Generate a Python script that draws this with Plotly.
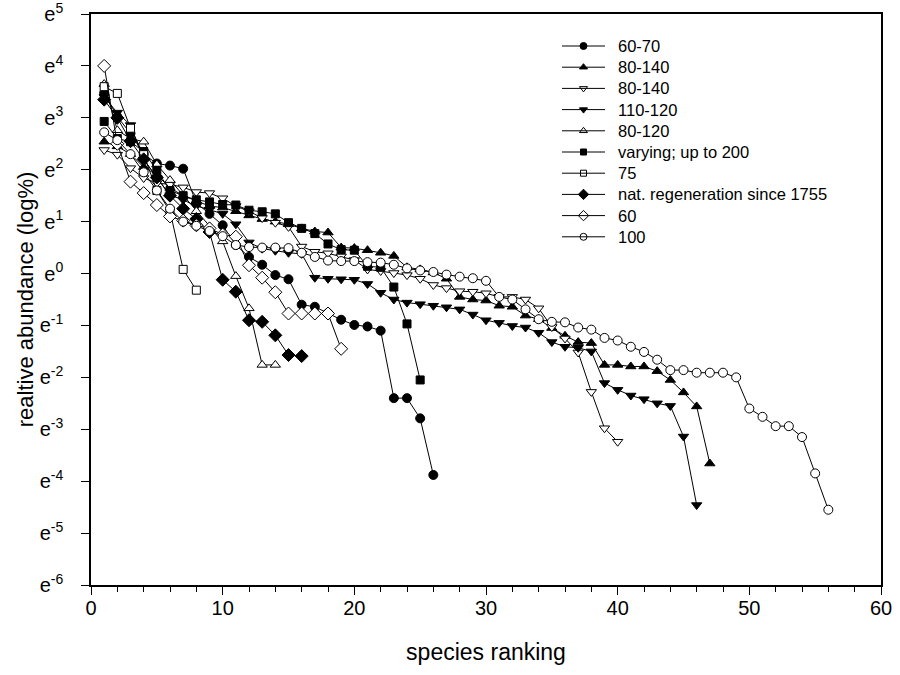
import plotly.graph_objects as go

# ---- data (natural-log relative abundance by species rank) ----
s_60_70 = [3.48, 3.02, 2.70, 2.30, 2.12, 2.08, 2.02, 1.36, 1.15, 0.93, 0.55, 0.32, 0.17, -0.03,
           -0.11, -0.60, -0.64, -0.76, -0.89, -0.99, -1.02, -1.10, -2.40, -2.40, -2.79, -3.88]
s_80_140_f = [2.54, 2.45, 2.30, 2.05, 1.90, 1.65, 1.50, 1.40, 1.30, 1.27, 1.20, 1.12, 1.05, 1.00,
              0.95, 0.87, 0.81, 0.79, 0.50, 0.49, 0.45, 0.40, 0.34, 0.12, 0.08, 0.02, -0.10,
              -0.45, -0.50, -0.52, -0.62, -0.64, -0.81, -0.88, -1.05, -1.20, -1.32, -1.34,
              -1.76, -1.76, -1.79, -1.79, -1.88, -2.05, -2.29, -2.56, -3.66]
s_80_140_o = [2.38, 2.29, 2.03, 1.84, 1.74, 1.72, 1.66, 1.57, 1.55, 1.45, 1.30, 1.20, 1.07, 0.98,
              0.90, 0.52, 0.42, 0.39, 0.33, 0.26, 0.08, 0.05, 0.01, -0.03, -0.10, -0.22, -0.28,
              -0.34, -0.35, -0.38, -0.45, -0.45, -0.50, -0.67, -1.03, -1.25, -1.52, -2.28,
              -2.98, -3.24]
s_110_120 = [3.40, 3.10, 2.86, 2.20, 1.85, 1.51, 1.42, 1.30, 1.23, 1.15, 0.95, 0.60, 0.48, 0.44,
             0.40, 0.38, -0.08, -0.10, -0.11, -0.12, -0.20, -0.37, -0.50, -0.56, -0.59, -0.62,
             -0.65, -0.69, -0.79, -0.90, -0.95, -1.01, -1.04, -1.14, -1.32, -1.41, -1.43,
             -1.50, -2.11, -2.24, -2.35, -2.42, -2.50, -2.55, -3.14, -4.46]
s_80_120 = [3.65, 2.76, 2.60, 2.54, 2.10, 1.80, 1.50, 1.20, 0.90, 0.62, -0.05, -0.67, -1.76, -1.76]
s_varying = [2.93, 2.60, 2.54, 2.35, 1.99, 1.60, 1.50, 1.42, 1.38, 1.33, 1.32, 1.22, 1.19, 1.15,
             0.98, 0.87, 0.77, 0.57, 0.46, 0.45, 0.14, 0.12, -0.26, -0.97, -2.05]
s_75 = [3.60, 3.47, 2.80, 2.29, 1.60, 1.20, 0.08, -0.32]
s_natreg = [3.35, 3.00, 2.55, 2.20, 1.85, 1.50, 1.25, 1.05, 0.80, -0.12, -0.35, -0.90, -0.93,
            -1.19, -1.57, -1.59]
s_60 = [4.00, 2.50, 1.77, 1.55, 1.32, 1.10, 1.02, 0.93, 0.87, 0.75, 0.71, 0.16, -0.08, -0.36,
        -0.77, -0.77, -0.77, -0.77, -1.45]
s_100 = [2.72, 2.57, 2.30, 1.95, 1.60, 1.25, 1.00, 0.92, 0.82, 0.72, 0.55, 0.51, 0.50, 0.50,
         0.49, 0.40, 0.32, 0.25, 0.24, 0.24, 0.22, 0.21, 0.17, 0.10, 0.06, 0.03, -0.02, -0.06,
         -0.09, -0.14, -0.45, -0.50, -0.69, -0.88, -0.93, -0.94, -1.04, -1.08, -1.24, -1.29,
         -1.41, -1.51, -1.66, -1.86, -1.86, -1.91, -1.91, -1.91, -2.00, -2.60, -2.76, -2.94,
         -2.94, -3.15, -3.85, -4.55]

series_names = ["60-70", "80-140", "80-140", "110-120", "80-120", "varying; up to 200", "75",
                "nat. regeneration since 1755", "60", "100"]
series_values = [s_60_70, s_80_140_f, s_80_140_o, s_110_120, s_80_120, s_varying, s_75,
                 s_natreg, s_60, s_100]
series_symbols = ["circle", "triangle-up", "triangle-down", "triangle-down", "triangle-up",
                  "square", "square", "diamond", "diamond", "circle"]
series_filled = [True, True, False, True, False, True, False, True, False, False]
series_sizes = [9, 9, 9, 9, 9, 8, 8, 10, 10, 9]

y_tickvals = list(range(-6, 6))
y_ticktext = ["e<sup>%d</sup>" % v for v in y_tickvals]
x_tickvals = [0, 10, 20, 30, 40, 50, 60]

# ---- layout geometry (pixels) ----
W, H = 900, 675
ML, MR, MT, MB = 91, 19, 14, 90
PW, PH = W - ML - MR, H - MT - MB


def px_x(px):
    return (px - ML) / PW


def px_y(py):
    return (H - MB - py) / PH


# custom legend geometry
LEG_LINE_X0, LEG_LINE_X1, LEG_TEXT_X = 562, 605, 616
LEG_ROW0, LEG_ROW_STEP = 46, 21.2

fig = go.Figure()
for name, vals, sym, filled, sz in zip(series_names, series_values, series_symbols,
                                        series_filled, series_sizes):
    ranks = list(range(1, len(vals) + 1))
    fig.add_trace(go.Scatter(
        x=ranks, y=vals, name=name, mode="lines+markers", showlegend=False,
        line=dict(color="black", width=1),
        marker=dict(symbol=sym, size=sz, color="black" if filled else "white",
                    line=dict(color="black", width=1)),
    ))

# legend drawn on an overlay axis spanning the plot area in paper units
for i, (name, sym, filled, sz) in enumerate(zip(series_names, series_symbols,
                                                series_filled, series_sizes)):
    yr = px_y(LEG_ROW0 + i * LEG_ROW_STEP)
    x0, x1 = px_x(LEG_LINE_X0), px_x(LEG_LINE_X1)
    fig.add_shape(type="line", xref="paper", yref="paper", x0=x0, x1=x1, y0=yr, y1=yr,
                  line=dict(color="black", width=1))
    fig.add_trace(go.Scatter(
        x=[(x0 + x1) / 2], y=[yr], xaxis="x2", yaxis="y2", mode="markers",
        showlegend=False, hoverinfo="skip",
        marker=dict(symbol=sym, size=sz - 2, color="black" if filled else "white",
                    line=dict(color="black", width=1)),
    ))
    fig.add_annotation(x=px_x(LEG_TEXT_X), y=yr, xref="paper", yref="paper", text=name,
                       showarrow=False, xanchor="left", yanchor="middle",
                       font=dict(size=16.5))

font_family = "Liberation Sans, Arial, sans-serif"
fig.update_layout(
    width=W, height=H,
    margin=dict(l=ML, r=MR, t=MT, b=MB, autoexpand=False),
    paper_bgcolor="white", plot_bgcolor="white",
    font=dict(family=font_family, color="black", size=16),
    showlegend=False,
    xaxis=dict(range=[0, 60], tickvals=x_tickvals, ticks="outside", ticklen=8,
               tickcolor="black", showline=True, linecolor="black", linewidth=1.5,
               mirror=True, showgrid=False, zeroline=False, automargin=False,
               minor=dict(dtick=2, ticks="outside", ticklen=5, tickcolor="black"),
               tickfont=dict(size=20), ticklabelstandoff=-4,
               title=dict(text="species ranking", font=dict(size=23), standoff=26)),
    yaxis=dict(range=[-6, 5], tickvals=y_tickvals, ticktext=y_ticktext, ticks="outside",
               ticklen=8, tickcolor="black", showline=True, linecolor="black", linewidth=1.5,
               mirror=True, showgrid=False, zeroline=False, ticklabeloverflow="allow",
               automargin=False, tickfont=dict(size=20), ticklabelstandoff=14,
               title=dict(text="realtive abundance (log%)", font=dict(size=22), standoff=0)),
    xaxis2=dict(range=[0, 1], overlaying="x", visible=False, fixedrange=True),
    yaxis2=dict(range=[0, 1], overlaying="y", visible=False, fixedrange=True),
)

fig.write_html("out.html")
